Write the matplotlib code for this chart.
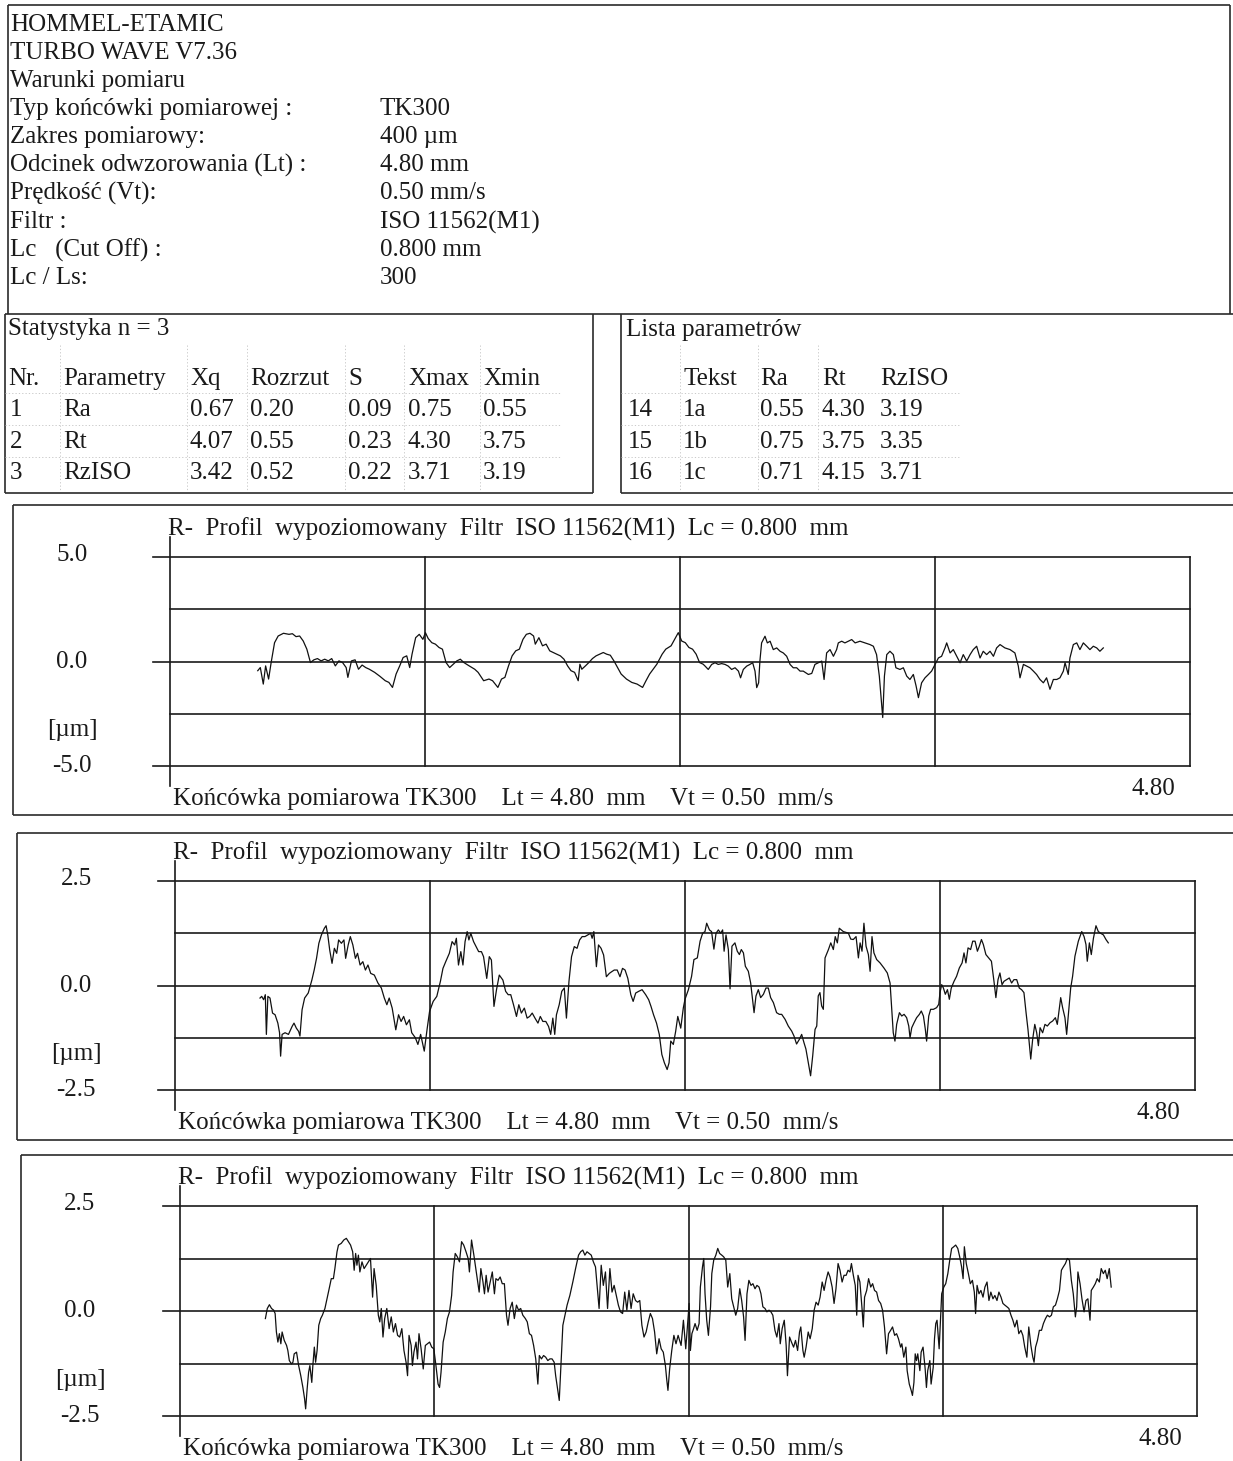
import numpy as np
import matplotlib
matplotlib.use("Agg")
import matplotlib.pyplot as plt
from matplotlib.transforms import blended_transform_factory

plt.rcParams['font.family'] = ['Liberation Serif', 'DejaVu Serif']

# ---------------- text data ----------------
header_lines = ["HOMMEL-ETAMIC", "TURBO WAVE V7.36", "Warunki pomiaru"]
cond_labels = ["Typ końcówki pomiarowej :", "Zakres pomiarowy:", "Odcinek odwzorowania (Lt) :",
               "Prędkość (Vt):", "Filtr :", "Lc   (Cut Off) :", "Lc / Ls:"]
cond_values = ["TK300", "400 µm", "4.80 mm", "0.50 mm/s", "ISO 11562(M1)", "0.800 mm", "300"]

stat_title = "Statystyka n = 3"
stat_header = ["Nr.", "Parametry", "Xq", "Rozrzut", "S", "Xmax", "Xmin"]
stat_nr = ["1", "2", "3"]
stat_param = ["Ra", "Rt", "RzISO"]
stat_xq = ["0.67", "4.07", "3.42"]
stat_rozrzut = ["0.20", "0.55", "0.52"]
stat_s = ["0.09", "0.23", "0.22"]
stat_xmax = ["0.75", "4.30", "3.71"]
stat_xmin = ["0.55", "3.75", "3.19"]

list_title = "Lista parametrów"
list_header = ["Tekst", "Ra", "Rt", "RzISO"]
list_nr = ["14", "15", "16"]
list_text = ["1a", "1b", "1c"]
list_ra = ["0.55", "0.75", "0.71"]
list_rt = ["4.30", "3.75", "4.15"]
list_rz = ["3.19", "3.35", "3.71"]

panel_title = "R-  Profil  wypoziomowany  Filtr  ISO 11562(M1)  Lc = 0.800  mm"
panel_footer = "Końcówka pomiarowa TK300    Lt = 4.80  mm    Vt = 0.50  mm/s"
length_mm = 4.80
grid_x = [1.2, 2.4, 3.6]
y_limits = [5.0, 2.5, 2.5]
y_tick_labels = [["5.0", "0.0", "-5.0"], ["2.5", "0.0", "-2.5"], ["2.5", "0.0", "-2.5"]]

# ---------------- profile data: (x [mm], z [µm]) ----------------
profile1 = np.array([
 0.413,-0.44, 0.425,-0.29, 0.439,-1.08, 0.450,-0.21, 0.464,-0.84, 0.476,-0.05, 0.492,0.90, 0.509,1.22,
 0.534,1.35, 0.560,1.30, 0.576,1.33, 0.593,1.19, 0.610,1.22, 0.627,0.98, 0.644,0.59, 0.661,-0.05,
 0.677,0.08, 0.694,0.14, 0.711,0.03, 0.728,0.11, 0.745,0.03, 0.761,0.14, 0.778,-0.21, 0.795,0.03,
 0.812,-0.05, 0.829,-0.29, 0.837,-0.76, 0.854,0.03, 0.871,0.08, 0.887,-0.37, 0.904,-0.17, 0.921,-0.29,
 0.938,-0.37, 0.963,-0.52, 0.988,-0.71, 1.013,-0.92, 1.030,-1.00, 1.047,-1.24, 1.064,-0.60, 1.081,-0.21,
 1.097,0.19, 1.114,0.27, 1.128,-0.29, 1.139,0.35, 1.156,1.14, 1.173,1.30, 1.190,1.06, 1.202,1.38,
 1.215,1.10, 1.232,0.90, 1.249,0.83, 1.266,0.67, 1.282,0.59, 1.299,-0.05, 1.316,-0.29, 1.333,-0.13,
 1.350,0.03, 1.366,0.11, 1.383,-0.05, 1.408,-0.21, 1.434,-0.37, 1.450,-0.52, 1.476,-0.92, 1.501,-0.84,
 1.518,-0.92, 1.543,-1.24, 1.560,-0.84, 1.576,-0.76, 1.593,-0.21, 1.610,0.27, 1.627,0.51, 1.644,0.59,
 1.661,1.06, 1.677,1.30, 1.694,1.35, 1.711,1.22, 1.719,0.83, 1.736,1.14, 1.753,0.75, 1.770,0.83,
 1.787,0.51, 1.803,0.43, 1.820,0.35, 1.837,0.27, 1.854,0.11, 1.871,-0.21, 1.887,-0.44, 1.904,-0.52,
 1.921,-0.92, 1.929,-0.13, 1.938,-0.37, 1.955,-0.21, 1.971,-0.05, 1.988,0.14, 2.005,0.27, 2.022,0.35,
 2.039,0.43, 2.055,0.35, 2.072,0.30, 2.089,0.03, 2.106,-0.29, 2.123,-0.60, 2.148,-0.84, 2.173,-1.00,
 2.198,-1.08, 2.224,-1.24, 2.240,-0.92, 2.257,-0.60, 2.291,-0.13, 2.316,0.35, 2.333,0.59, 2.358,0.75,
 2.375,1.06, 2.392,1.38, 2.408,0.98, 2.425,0.90, 2.442,0.67, 2.459,0.59, 2.476,0.35, 2.492,-0.05,
 2.509,-0.13,
 2.518,-0.22, 2.533,-0.38, 2.549,-0.14, 2.565,-0.06, 2.580,-0.14, 2.596,-0.10, 2.612,-0.14, 2.627,-0.22,
 2.643,-0.38, 2.659,-0.30, 2.675,-0.46, 2.685,-0.78, 2.698,-0.38, 2.714,-0.22, 2.729,-0.14, 2.742,-0.06,
 2.753,-0.46, 2.761,-1.25, 2.770,-1.02, 2.776,0.02, 2.784,0.89, 2.800,1.21, 2.811,0.89, 2.824,0.97,
 2.839,0.57, 2.855,0.65, 2.871,0.49, 2.886,0.41, 2.902,0.25, 2.918,-0.14, 2.933,-0.30, 2.949,-0.30,
 2.965,-0.46, 2.980,-0.46, 3.004,-0.62, 3.020,-0.57, 3.035,-0.14, 3.051,-0.06, 3.067,0.02, 3.078,-0.86,
 3.090,0.41, 3.106,0.57, 3.122,0.25, 3.137,0.57, 3.145,0.89, 3.161,0.97, 3.176,0.89, 3.192,0.97,
 3.208,1.05, 3.224,0.89, 3.247,0.97, 3.271,0.89, 3.294,0.81, 3.310,0.73, 3.325,0.33, 3.338,-0.70,
 3.347,-1.81, 3.354,-2.68, 3.362,-0.70, 3.373,0.33, 3.388,0.49, 3.404,0.33, 3.416,-0.30, 3.435,-0.38,
 3.451,-0.30, 3.467,-0.70, 3.482,-0.86, 3.498,-0.62, 3.511,-1.17, 3.522,-1.73, 3.537,-1.02, 3.553,-0.78,
 3.569,-0.62, 3.584,-0.46, 3.600,-0.14, 3.616,0.17, 3.631,0.25, 3.647,0.65, 3.655,0.89, 3.671,0.41,
 3.686,0.57, 3.702,0.25, 3.718,-0.06, 3.733,0.33, 3.749,0.02, 3.765,0.33, 3.780,0.57, 3.796,0.73,
 3.812,0.17, 3.827,0.49, 3.843,0.33, 3.859,0.49, 3.875,0.25, 3.890,0.65, 3.906,0.81, 3.929,0.65,
 3.953,0.57, 3.976,0.41, 3.992,-0.22, 4.000,-0.78, 4.016,-0.14, 4.031,-0.22, 4.047,-0.30, 4.063,-0.46,
 4.078,-0.62, 4.094,-0.86, 4.110,-1.02, 4.125,-0.78, 4.141,-1.33, 4.157,-0.86, 4.173,-0.86, 4.188,-0.78,
 4.204,-0.46, 4.212,-0.06, 4.227,-0.62, 4.235,0.17, 4.251,0.81, 4.267,0.89, 4.282,0.57, 4.298,0.89,
 4.314,0.73, 4.329,0.57, 4.345,0.73, 4.361,0.65, 4.376,0.49, 4.392,0.65,
]).reshape(-1, 2)

profile2 = np.array([
 0.400,-0.30, 0.408,-0.26, 0.417,-0.34, 0.425,-0.22, 0.430,-1.17, 0.437,-0.26, 0.447,-0.30, 0.459,-0.66,
 0.471,-0.70, 0.484,-0.90, 0.492,-1.13, 0.497,-1.69, 0.504,-1.17, 0.518,-1.13, 0.534,-1.17, 0.551,-0.98,
 0.560,-0.90, 0.571,-1.02, 0.582,-1.10, 0.588,-1.21, 0.598,-0.58, 0.610,-0.30, 0.627,-0.18, 0.644,0.13,
 0.655,0.37, 0.666,0.65, 0.677,1.01, 0.689,1.21, 0.703,1.37, 0.711,1.43, 0.719,1.21, 0.728,0.85,
 0.739,0.53, 0.750,0.89, 0.761,0.77, 0.770,1.09, 0.783,1.01, 0.795,1.09, 0.803,0.65, 0.815,0.97,
 0.825,1.17, 0.837,0.97, 0.849,0.65, 0.859,0.77, 0.871,0.49, 0.884,0.57, 0.896,0.37, 0.908,0.49,
 0.921,0.29, 0.938,0.25, 0.955,0.06, 0.971,-0.06, 0.985,-0.30, 0.997,-0.46, 1.008,-0.30, 1.022,-0.54,
 1.039,-1.06, 1.052,-0.70, 1.064,-0.86, 1.076,-0.74, 1.089,-0.94, 1.103,-0.82, 1.114,-1.13, 1.131,-1.25,
 1.143,-1.41, 1.156,-1.17, 1.173,-1.57, 1.187,-1.02, 1.198,-0.62, 1.215,-0.38, 1.232,-0.26, 1.249,0.10,
 1.261,0.41, 1.274,0.57, 1.291,0.77, 1.304,1.05, 1.316,0.97, 1.324,1.13, 1.334,0.49, 1.345,0.81,
 1.355,0.49, 1.365,1.05, 1.375,1.29, 1.383,1.09, 1.392,1.25, 1.405,1.05, 1.417,0.93, 1.429,0.81,
 1.442,0.81, 1.452,0.69, 1.467,0.17, 1.479,0.69, 1.489,0.61, 1.501,-0.50, 1.513,-0.10, 1.526,0.25,
 1.543,0.13, 1.556,-0.14, 1.568,-0.22, 1.580,-0.22, 1.593,-0.46, 1.607,-0.74, 1.618,-0.46, 1.630,-0.66,
 1.644,-0.54, 1.657,-0.78, 1.669,-0.74, 1.681,-0.66, 1.694,-0.78, 1.708,-0.90, 1.719,-0.74, 1.731,-0.86,
 1.745,-0.86, 1.758,-0.98, 1.768,-1.17, 1.778,-0.78, 1.787,-1.17, 1.795,-0.70, 1.808,-0.46, 1.820,-0.14,
 1.832,-0.06, 1.842,-0.78, 1.854,0.10, 1.866,0.69, 1.879,0.93, 1.892,0.89, 1.904,1.09, 1.916,1.17,
 1.929,1.17, 1.943,1.21, 1.956,1.25, 1.963,1.13, 1.971,1.29, 1.983,0.45, 1.993,0.97, 2.005,0.89,
 2.017,0.73, 2.030,0.21, 2.044,0.29, 2.055,0.33, 2.067,0.37, 2.081,0.37, 2.094,0.21, 2.106,0.41,
 2.118,0.37, 2.131,0.17, 2.145,-0.22, 2.156,-0.38, 2.168,-0.18, 2.182,-0.14, 2.198,-0.10, 2.215,-0.22,
 2.229,-0.34, 2.240,-0.50, 2.252,-0.70, 2.266,-0.90, 2.279,-1.17, 2.291,-1.65, 2.303,-1.85, 2.316,-2.01,
 2.325,-1.85, 2.333,-1.33, 2.345,-1.41, 2.356,-1.10, 2.366,-0.74, 2.380,-1.02, 2.392,-0.54,
 2.400,-0.33, 2.416,-0.10, 2.431,0.22, 2.442,0.62, 2.458,0.66, 2.471,1.06, 2.483,1.25, 2.494,1.29,
 2.502,1.49, 2.515,1.33, 2.525,1.29, 2.536,0.87, 2.546,1.25, 2.557,1.33, 2.568,1.25, 2.577,1.33,
 2.584,0.82, 2.593,1.21, 2.604,0.86, 2.612,-0.08, 2.621,0.94, 2.635,1.02, 2.646,0.82, 2.656,0.74,
 2.665,0.86, 2.675,0.78, 2.684,0.46, 2.698,0.34, 2.709,0.06, 2.718,-0.33, 2.725,-0.65, 2.734,-0.25,
 2.745,-0.10, 2.756,-0.29, 2.769,-0.21, 2.781,-0.06, 2.792,-0.06, 2.803,-0.29, 2.816,-0.41, 2.831,-0.65,
 2.844,-0.69, 2.855,-0.69, 2.871,-0.81, 2.886,-0.97, 2.902,-1.09, 2.913,-1.21, 2.925,-1.40, 2.938,-1.29,
 2.949,-1.17, 2.960,-1.37, 2.969,-1.52, 2.980,-1.84, 2.991,-2.16, 3.001,-1.68, 3.012,-1.05, 3.020,-0.97,
 3.027,-0.25, 3.035,-0.17, 3.043,-0.49, 3.051,-0.57, 3.059,0.66, 3.075,0.86, 3.086,1.02, 3.098,0.86,
 3.107,1.17, 3.117,1.02, 3.126,1.37, 3.145,1.29, 3.158,1.27, 3.169,1.25, 3.180,1.11, 3.192,1.10,
 3.205,1.17, 3.216,0.66, 3.224,1.02, 3.233,0.82, 3.242,1.49, 3.252,0.94, 3.263,0.74, 3.271,0.34,
 3.280,1.17, 3.289,0.78, 3.302,0.62, 3.318,0.54, 3.336,0.42, 3.352,0.30, 3.365,0.06, 3.373,-0.57,
 3.380,-1.13, 3.388,-1.33, 3.396,-0.93, 3.409,-0.65, 3.420,-0.73, 3.431,-0.69, 3.443,-0.77, 3.453,-0.97,
 3.459,-1.25, 3.467,-1.01, 3.478,-0.89, 3.490,-0.77, 3.503,-0.69, 3.512,-0.61, 3.522,-0.73, 3.531,-1.05,
 3.537,-1.33, 3.547,-0.73, 3.556,-0.57, 3.569,-0.57, 3.584,-0.53, 3.594,-0.45, 3.600,-0.17, 3.608,0.02,
 3.616,-0.06, 3.625,-0.21, 3.635,-0.10, 3.644,-0.33, 3.653,-0.06, 3.666,0.10, 3.678,0.22, 3.691,0.42,
 3.704,0.54, 3.713,0.78, 3.722,0.54, 3.732,0.90, 3.744,0.86, 3.754,1.06, 3.765,1.06, 3.776,0.82,
 3.785,0.94, 3.795,1.10, 3.804,0.98, 3.816,0.74, 3.829,0.66, 3.842,0.58, 3.854,0.10, 3.863,-0.29,
 3.873,0.14, 3.882,0.30, 3.892,0.02, 3.901,0.10, 3.914,0.14, 3.926,0.18, 3.937,0.06, 3.948,0.14,
 3.961,0.14, 3.973,-0.06, 3.984,-0.10, 3.995,-0.17, 4.005,-0.65, 4.014,-1.05, 4.027,-1.76, 4.036,-1.29,
 4.046,-0.93, 4.055,-1.13, 4.063,-1.44, 4.071,-1.01, 4.083,-1.13, 4.094,-0.93, 4.105,-0.97, 4.118,-0.89,
 4.130,-0.85, 4.143,-0.77, 4.152,-0.93, 4.162,-0.53, 4.168,-0.29, 4.177,-0.53, 4.188,-0.77, 4.196,-1.17,
 4.205,-0.65, 4.215,-0.06, 4.224,0.22, 4.235,0.70, 4.251,1.06, 4.267,1.29, 4.278,1.17, 4.287,0.98,
 4.293,0.58, 4.303,1.02, 4.312,0.74, 4.322,1.13, 4.334,1.43, 4.345,1.29, 4.356,1.25, 4.369,1.21,
 4.381,1.10, 4.392,1.02,
]).reshape(-1, 2)

profile3 = np.array([
 0.403,-0.18, 0.412,0.06, 0.422,0.15, 0.432,0.06, 0.442,0.02, 0.449,-0.06, 0.455,-0.50, 0.462,-0.74,
 0.469,-0.54, 0.476,-0.78, 0.482,-0.50, 0.492,-0.70, 0.503,-0.82, 0.509,-0.94, 0.516,-1.18, 0.526,-1.26,
 0.533,-1.22, 0.539,-1.02, 0.550,-0.98, 0.560,-1.30, 0.570,-1.54, 0.580,-1.82, 0.588,-2.09, 0.593,-2.33,
 0.600,-1.86, 0.607,-1.46, 0.613,-1.30, 0.622,-1.70, 0.627,-1.30, 0.634,-0.86, 0.640,-1.22, 0.647,-0.94,
 0.655,-0.34, 0.664,-0.18, 0.672,-0.10, 0.684,0.06, 0.694,0.29, 0.704,0.53, 0.714,0.77, 0.724,0.77,
 0.731,1.01, 0.741,1.41, 0.748,1.57, 0.761,1.61, 0.773,1.69, 0.785,1.73, 0.795,1.65, 0.805,1.57,
 0.815,1.41, 0.822,0.97, 0.829,1.37, 0.835,1.09, 0.842,1.33, 0.849,0.93, 0.859,1.17, 0.869,1.01,
 0.879,1.09, 0.889,1.17, 0.899,1.25, 0.909,0.33, 0.916,1.01, 0.926,0.61, 0.936,-0.10, 0.943,-0.26,
 0.950,0.06, 0.958,-0.62, 0.966,-0.18, 0.976,0.06, 0.987,-0.42, 0.997,-0.14, 1.007,-0.50, 1.017,-0.30,
 1.027,-0.58, 1.037,-0.62, 1.047,-0.42, 1.057,-0.94, 1.067,-1.22, 1.074,-1.54, 1.081,-0.58, 1.091,-0.82,
 1.097,-1.30, 1.104,-0.98, 1.114,-0.74, 1.121,-1.14, 1.128,-0.54, 1.138,-0.90, 1.148,-1.38, 1.158,-0.82,
 1.168,-0.78, 1.178,-0.74, 1.188,-0.86, 1.198,-0.90, 1.208,-1.30, 1.218,-1.74, 1.225,-1.82, 1.232,-1.46,
 1.242,-0.74, 1.252,-0.50, 1.262,-0.18, 1.272,-0.02, 1.282,0.37, 1.289,0.93, 1.299,1.37, 1.309,1.29,
 1.319,1.17, 1.329,1.65, 1.339,1.57, 1.350,1.41, 1.360,1.25, 1.366,0.93, 1.376,1.69, 1.387,1.33,
 1.395,1.05, 1.403,0.77, 1.412,0.45, 1.420,1.01, 1.430,0.69, 1.437,0.41, 1.445,0.85, 1.454,0.45,
 1.464,0.69, 1.474,0.93, 1.484,0.41, 1.491,0.77, 1.501,0.73, 1.511,0.81, 1.521,0.65, 1.531,0.65,
 1.541,-0.10, 1.548,-0.34, 1.558,0.06, 1.568,0.21, 1.578,-0.18, 1.588,0.14, 1.598,0.02, 1.608,0.06,
 1.618,-0.10, 1.630,-0.18, 1.639,-0.26, 1.649,-0.54, 1.659,-0.58, 1.669,-0.82, 1.679,-1.14, 1.689,-1.74,
 1.696,-1.06, 1.706,-1.14, 1.716,-1.06, 1.726,-1.10, 1.736,-1.18, 1.746,-1.14, 1.756,-1.14, 1.766,-1.22,
 1.773,-1.54, 1.782,-1.86, 1.790,-2.13, 1.798,-1.30, 1.807,-0.34, 1.817,-0.10, 1.827,0.14, 1.840,0.37,
 1.854,0.69, 1.867,1.01, 1.881,1.33, 1.891,1.41, 1.901,1.45, 1.911,1.33, 1.921,1.41, 1.931,1.37,
 1.941,1.33, 1.951,1.17, 1.961,1.05, 1.971,0.45, 1.978,0.06, 1.988,1.09, 1.998,0.61, 2.008,0.93,
 2.018,0.06, 2.029,1.01, 2.039,0.45, 2.049,0.61, 2.059,0.37, 2.069,0.14, 2.079,-0.02, 2.089,-0.06,
 2.099,0.45, 2.109,0.02, 2.119,0.49, 2.129,0.06, 2.139,0.41, 2.150,0.25, 2.160,0.21, 2.170,0.25,
 2.180,-0.34, 2.190,-0.62, 2.200,-0.50, 2.210,-0.26, 2.220,-0.06, 2.230,-0.18, 2.240,-0.50, 2.250,-1.02,
 2.261,-0.66, 2.271,-0.90, 2.281,-0.98, 2.291,-1.30, 2.297,-1.62, 2.303,-1.89, 2.311,-1.38, 2.321,-0.94,
 2.331,-0.58, 2.341,-0.78, 2.351,-0.58,
 2.365,-0.82, 2.376,-0.22, 2.387,-0.90, 2.397,-0.22, 2.403,0.18, 2.409,-0.94, 2.416,-0.54, 2.424,-0.42,
 2.431,-0.30, 2.441,-0.46, 2.450,-0.30, 2.456,0.57, 2.466,1.05, 2.472,1.25, 2.478,0.41, 2.486,-0.22,
 2.494,-0.58, 2.504,0.10, 2.510,0.89, 2.519,1.21, 2.529,1.33, 2.538,1.49, 2.547,1.37, 2.557,1.33,
 2.566,1.29, 2.576,1.21, 2.585,0.57, 2.595,0.89, 2.604,0.29, 2.613,0.10, 2.623,-0.10, 2.632,0.06,
 2.642,0.53, 2.651,0.25, 2.660,-0.14, 2.667,-0.70, 2.676,0.41, 2.685,0.73, 2.695,0.61, 2.704,0.65,
 2.714,0.53, 2.723,0.61, 2.733,0.57, 2.742,0.41, 2.751,0.10, 2.761,0.06, 2.770,-0.02, 2.780,0.02,
 2.789,-0.02, 2.798,-0.10, 2.808,-0.46, 2.817,-0.62, 2.827,-0.30, 2.833,-0.78, 2.842,-0.42, 2.852,-0.22,
 2.861,-0.82, 2.867,-1.54, 2.877,-0.62, 2.886,-0.74, 2.896,-0.86, 2.905,-0.70, 2.915,-0.94, 2.924,-0.50,
 2.930,-0.38, 2.940,-0.94, 2.946,-1.10, 2.955,-0.86, 2.965,-0.50, 2.974,-0.66, 2.984,-0.42, 2.993,0.02,
 3.002,0.21, 3.012,0.14, 3.021,0.33, 3.031,0.69, 3.040,0.49, 3.049,0.73, 3.059,0.93, 3.068,0.81,
 3.078,0.57, 3.087,0.18, 3.096,0.53, 3.106,1.13, 3.115,0.97, 3.125,0.69, 3.134,0.85, 3.144,0.85,
 3.153,0.97, 3.162,0.93, 3.169,1.13, 3.178,0.85, 3.187,0.61, 3.194,-0.10, 3.200,0.85, 3.209,0.69,
 3.219,0.06, 3.225,-0.38, 3.231,0.33, 3.241,0.49, 3.250,0.77, 3.260,0.57, 3.269,0.65, 3.278,0.49,
 3.288,0.45, 3.297,0.25, 3.307,0.18, 3.316,0.02, 3.325,-0.38, 3.335,-1.02, 3.344,-0.54, 3.354,-0.46,
 3.363,-0.38, 3.373,-0.58, 3.382,-0.54, 3.391,-0.66, 3.401,-0.86, 3.407,-0.78, 3.416,-1.10, 3.426,-0.86,
 3.432,-1.42, 3.442,-1.74, 3.451,-1.89, 3.457,-2.01, 3.464,-1.70, 3.470,-1.02, 3.476,-1.18, 3.482,-1.02,
 3.492,-1.42, 3.498,-0.98, 3.507,-0.86, 3.517,-1.38, 3.523,-1.82, 3.529,-1.42, 3.539,-1.18, 3.545,-1.74,
 3.555,-1.34, 3.561,-0.66, 3.567,-0.30, 3.573,-0.22, 3.583,-0.90, 3.589,-0.22, 3.595,0.41, 3.605,0.57,
 3.614,0.65, 3.624,0.89, 3.633,1.21, 3.642,1.49, 3.652,1.53, 3.661,1.57, 3.671,1.49, 3.680,1.29,
 3.689,1.05, 3.696,0.77, 3.702,1.53, 3.711,1.13, 3.721,0.89, 3.730,0.65, 3.740,0.73, 3.749,0.45,
 3.755,-0.06, 3.762,0.61, 3.771,0.41, 3.780,0.49, 3.790,0.33, 3.799,0.57, 3.809,0.69, 3.818,0.25,
 3.827,0.45, 3.837,0.29, 3.846,0.37, 3.856,0.25, 3.865,0.45, 3.875,0.33, 3.884,0.18, 3.893,0.14,
 3.903,0.10, 3.912,0.06, 3.922,-0.10, 3.931,-0.22, 3.940,-0.38, 3.950,-0.22, 3.959,-0.54, 3.969,-0.46,
 3.978,-0.58, 3.987,-0.86, 3.997,-1.10, 4.006,-0.38, 4.016,-0.82, 4.025,-1.10, 4.031,-1.22, 4.038,-0.86,
 4.047,-0.70, 4.056,-0.46, 4.066,-0.46, 4.075,-0.30, 4.085,-0.18, 4.094,-0.10, 4.104,-0.14, 4.113,-0.10,
 4.122,0.10, 4.132,0.14, 4.141,0.29, 4.151,0.49, 4.160,0.97, 4.169,1.05, 4.179,1.13, 4.188,1.25,
 4.198,1.21, 4.207,0.73, 4.216,0.41, 4.226,-0.14, 4.232,0.10, 4.238,0.93, 4.248,0.65, 4.257,0.29,
 4.267,-0.02, 4.276,0.25, 4.285,0.29, 4.295,-0.22, 4.301,0.49, 4.311,0.57, 4.320,0.65, 4.329,0.77,
 4.339,0.69, 4.348,1.01, 4.358,0.89, 4.367,0.97, 4.376,0.77, 4.386,1.01, 4.395,0.57,
]).reshape(-1, 2)

profiles = [profile1, profile2, profile3]

# ---------------- figure ----------------
W, H, DPI = 1233, 1461, 100
FS = 18
INK = '#1a1a1a'
fig = plt.figure(figsize=(W / DPI, H / DPI), dpi=DPI)
fig.patch.set_facecolor('white')

bg = fig.add_axes([0, 0, 1, 1])
bg.set_xlim(0, W)
bg.set_ylim(H, 0)
bg.axis('off')


def seg(x0, y0, x1, y1, lw=1.2, color='#2a2a2a', ls='-'):
    bg.plot([x0, x1], [y0, y1], color=color, lw=lw, ls=ls, solid_capstyle='butt')


def txt(x, y, s, ha='left', size=FS):
    bg.text(x, y, s, ha=ha, va='center', fontsize=size, color=INK)


# header box
seg(8, 5, 1230, 5)
seg(8, 5, 8, 314)
seg(1230, 5, 1230, 314)
seg(5, 314, 1233, 314)
row_y = [25, 53, 81, 109, 137, 165, 193, 222, 250, 278]
for i, s in enumerate(header_lines):
    txt(10, row_y[i], s)
for i, (l, v) in enumerate(zip(cond_labels, cond_values)):
    txt(10, row_y[i + 3], l)
    txt(380, row_y[i + 3], v)

# statistics box
seg(5, 314, 5, 493)
seg(593, 314, 593, 493)
seg(5, 493, 593, 493)
dot_style = dict(lw=0.6, color='#c2c2c2', ls=(0, (1.5, 2.5)))
for yy in [393, 425, 457]:
    seg(5, yy, 560, yy, **dot_style)
for xx in [60, 187, 247, 345, 404, 480]:
    seg(xx, 345, xx, 490, **dot_style)
txt(8, 329, stat_title)
stat_cols_x = [8, 63, 190, 250, 348, 408, 483]
for x, s in zip(stat_cols_x, stat_header):
    txt(x, 379, s)
stat_rows_y = [410, 442, 473]
for r in range(3):
    vals = [stat_nr[r], stat_param[r], stat_xq[r], stat_rozrzut[r], stat_s[r], stat_xmax[r], stat_xmin[r]]
    for x, s in zip(stat_cols_x, vals):
        txt(x + (2 if x == 8 else 0), stat_rows_y[r], s)

# parameter list box
seg(621, 314, 621, 493)
seg(621, 493, 1233, 493)
for yy in [393, 425, 457]:
    seg(621, yy, 960, yy, **dot_style)
for xx in [680, 758, 818]:
    seg(xx, 345, xx, 490, **dot_style)
txt(626, 330, list_title)
list_cols_x = [628, 683, 760, 822, 880]
for x, s in zip(list_cols_x[1:], list_header):
    txt(x, 379, s)
for r in range(3):
    vals = [list_nr[r], list_text[r], list_ra[r], list_rt[r], list_rz[r]]
    for x, s in zip(list_cols_x, vals):
        txt(x, stat_rows_y[r], s)

# ---------------- profile panels ----------------
# (frame left, frame top, frame bottom, axes left, axes right, axes top, axes bottom)
panels = [
    (13, 505, 815, 170, 1190, 557, 766),
    (17, 833, 1140, 175, 1195, 881, 1090),
    (21, 1155, 1470, 180, 1197, 1206, 1416),
]

for k, (fl, ft, fb, al, ar, at, ab) in enumerate(panels):
    # outer frame
    seg(fl, ft, 1233, ft)
    seg(fl, ft, fl, min(fb, H))
    if fb < H:
        seg(fl, fb, 1233, fb)

    lim = y_limits[k]
    ax = fig.add_axes([al / W, 1 - ab / H, (ar - al) / W, (ab - at) / H])
    ax.set_xlim(0, length_mm)
    ax.set_ylim(-lim, lim)
    ax.axis('off')

    mm_per_px = length_mm / (ar - al)
    um_per_px = 2 * lim / (ab - at)
    ext = 17 * mm_per_px
    over = 20 * um_per_px
    glw = 1.2
    for v in [lim, 0, -lim]:
        ax.plot([-ext, length_mm], [v, v], color=INK, lw=glw, clip_on=False)
    for v in [lim / 2, -lim / 2]:
        ax.plot([0, length_mm], [v, v], color=INK, lw=glw, clip_on=False)
    for gx in grid_x:
        ax.plot([gx, gx], [-lim, lim], color=INK, lw=glw, clip_on=False)
    ax.plot([length_mm, length_mm], [-lim, lim], color=INK, lw=glw, clip_on=False)
    ax.plot([0, 0], [-lim - over, lim + over], color=INK, lw=glw, clip_on=False)

    prof = profiles[k]
    ax.plot(prof[:, 0], prof[:, 1], color='#111111', lw=0.9, clip_on=False)

    # y labels
    tr = blended_transform_factory(ax.transAxes, ax.transData)
    lab_x = (72 + 4 * k - al) / (ar - al)
    for v, s in zip([lim, 0, -lim], y_tick_labels[k]):
        ax.text(lab_x, v + 2 * um_per_px * (1 if v > 0 else 0), s, transform=tr,
                ha='center', va='center', fontsize=FS, color=INK)
    ax.text(lab_x, -0.66 * lim, "[µm]", transform=tr, ha='center', va='center',
            fontsize=FS, color=INK)

    # title, footer, length label
    txt(al - 2, at - 28, panel_title)
    txt(al + 3, ab + 33, panel_footer)
    txt(ar - 37, ab + 23, f"{length_mm:.2f}", ha='center')

fig.savefig('out.png', dpi=DPI, facecolor='white')
